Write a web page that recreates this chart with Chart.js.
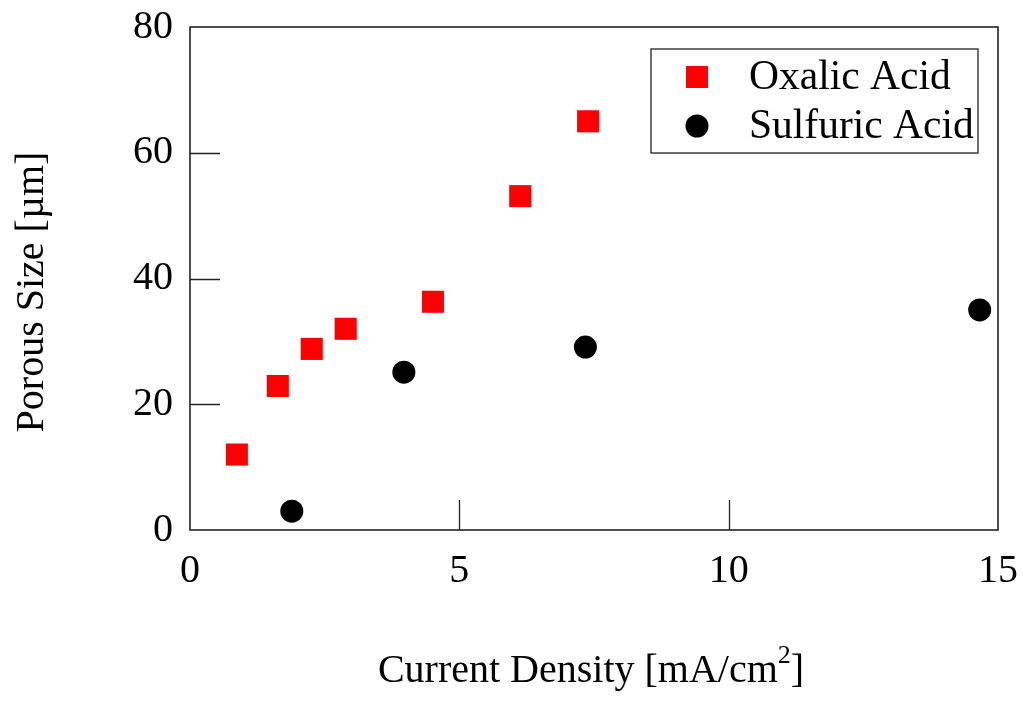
<!DOCTYPE html>
<html>
<head>
<meta charset="utf-8">
<script src="https://cdn.jsdelivr.net/npm/chart.js@4/dist/chart.umd.min.js"></script>
<style>
  html, body { margin: 0; padding: 0; background: #fff; }
  #wrap { width: 1023px; height: 701px; }
</style>
</head>
<body>
<div id="wrap"><canvas id="chart" width="1023" height="701"></canvas></div>
<script>
// data
const oxalicX = [0.87, 1.63, 2.26, 2.89, 4.51, 6.13, 7.39];
const oxalicY = [12.0, 22.9, 28.8, 32.0, 36.3, 53.1, 65.0];
const sulfuricX = [1.89, 3.97, 7.34, 14.66];
const sulfuricY = [3.0, 25.1, 29.1, 35.0];
const seriesNames = ['Oxalic Acid', 'Sulfuric Acid'];
const xTicks = [0, 5, 10, 15];
const yTicks = [0, 20, 40, 60, 80];
const xTitle = 'Current Density [mA/cm';
const xTitleSup = '2';
const yTitle = 'Porous Size [\u00b5m]';

const FONT = "'Liberation Serif', 'Times New Roman', serif";

function toPoints(xs, ys) {
    return xs.map((x, i) => ({ x: x, y: ys[i] }));
}

// frame, inward ticks, axis titles and legend
const decorations = {
    id: 'decorations',
    afterDraw(chart) {
        const ctx = chart.ctx;
        const a = chart.chartArea;
        const sx = chart.scales.x, sy = chart.scales.y;
        ctx.save();
        ctx.strokeStyle = '#222';
        ctx.lineWidth = 1.6;
        ctx.strokeRect(a.left, a.top, a.right - a.left, a.bottom - a.top);

        // ticks pointing into the plot
        ctx.lineWidth = 1.3;
        ctx.beginPath();
        xTicks.slice(1, -1).forEach(v => {
            const px = Math.round(sx.getPixelForValue(v)) + 0.5;
            ctx.moveTo(px, a.bottom);
            ctx.lineTo(px, a.bottom - 30);
        });
        yTicks.slice(1, -1).forEach(v => {
            const py = Math.round(sy.getPixelForValue(v)) + 0.5;
            ctx.moveTo(a.left, py);
            ctx.lineTo(a.left + 30, py);
        });
        ctx.stroke();

        // x title with superscript
        ctx.fillStyle = '#000';
        ctx.textBaseline = 'alphabetic';
        ctx.font = '40px ' + FONT;
        const w1 = ctx.measureText(xTitle).width;
        ctx.font = '26px ' + FONT;
        const w2 = ctx.measureText(xTitleSup).width;
        ctx.font = '40px ' + FONT;
        const w3 = ctx.measureText(']').width;
        let x0 = 591 - (w1 + w2 + w3) / 2;
        ctx.textAlign = 'left';
        ctx.fillText(xTitle, x0, 682);
        ctx.font = '26px ' + FONT;
        ctx.fillText(xTitleSup, x0 + w1, 663);
        ctx.font = '40px ' + FONT;
        ctx.fillText(']', x0 + w1 + w2, 682);

        // y title
        ctx.save();
        ctx.translate(43, 292);
        ctx.rotate(-Math.PI / 2);
        ctx.textAlign = 'center';
        ctx.fillText(yTitle, 0, 0);
        ctx.restore();

        // legend box in the top right corner
        const bx = a.right - 347, by = a.top + 22, bw = 327, bh = 104;
        ctx.lineWidth = 1.3;
        ctx.strokeStyle = '#222';
        ctx.strokeRect(bx, by, bw, bh);
        ctx.textAlign = 'left';
        ctx.textBaseline = 'middle';
        ctx.font = '41.5px ' + FONT;
        chart.data.datasets.forEach((ds, i) => {
            const cy = by + 28 + i * 49;
            ctx.fillStyle = ds.backgroundColor;
            if (ds.pointStyle === 'rect') {
                ctx.fillRect(bx + 35, cy - 11, 22, 22);
            } else {
                ctx.beginPath();
                ctx.arc(bx + 46, cy, 11.5, 0, Math.PI * 2);
                ctx.fill();
            }
            ctx.fillStyle = '#000';
            ctx.fillText(ds.label, bx + 98, cy + 1);
        });
        ctx.restore();
    }
};

new Chart(document.getElementById('chart').getContext('2d'), {
    type: 'scatter',
    data: {
        datasets: [{
            label: seriesNames[0],
            data: toPoints(oxalicX, oxalicY),
            pointStyle: 'rect',
            pointRadius: 15.6,
            pointHoverRadius: 15.6,
            borderWidth: 0,
            backgroundColor: '#ff0000',
            borderColor: '#ff0000'
        }, {
            label: seriesNames[1],
            data: toPoints(sulfuricX, sulfuricY),
            pointStyle: 'circle',
            pointRadius: 11.5,
            pointHoverRadius: 11.5,
            borderWidth: 0,
            backgroundColor: '#000000',
            borderColor: '#000000'
        }]
    },
    options: {
        responsive: false,
        animation: false,
        events: [],
        layout: { padding: { top: 27, right: 25, left: 0, bottom: 0 } },
        plugins: {
            legend: { display: false },
            tooltip: { enabled: false }
        },
        scales: {
            x: {
                type: 'linear',
                min: 0, max: 15,
                afterBuildTicks: s => { s.ticks = xTicks.map(v => ({ value: v })); },
                afterFit: s => { s.height = 171; s.paddingLeft = 0; s.paddingRight = 0; },
                grid: { display: false, drawTicks: false },
                border: { display: false },
                ticks: {
                    padding: 17,
                    color: '#000',
                    font: { family: FONT, size: 40 }
                }
            },
            y: {
                type: 'linear',
                min: 0, max: 80,
                afterBuildTicks: s => { s.ticks = yTicks.map(v => ({ value: v })); },
                afterFit: s => { s.width = 190; s.paddingTop = 0; s.paddingBottom = 0; },
                grid: { display: false, drawTicks: false },
                border: { display: false },
                ticks: {
                    padding: 17,
                    color: '#000',
                    font: { family: FONT, size: 40 }
                }
            }
        }
    },
    plugins: [decorations]
});
</script>
</body>
</html>
